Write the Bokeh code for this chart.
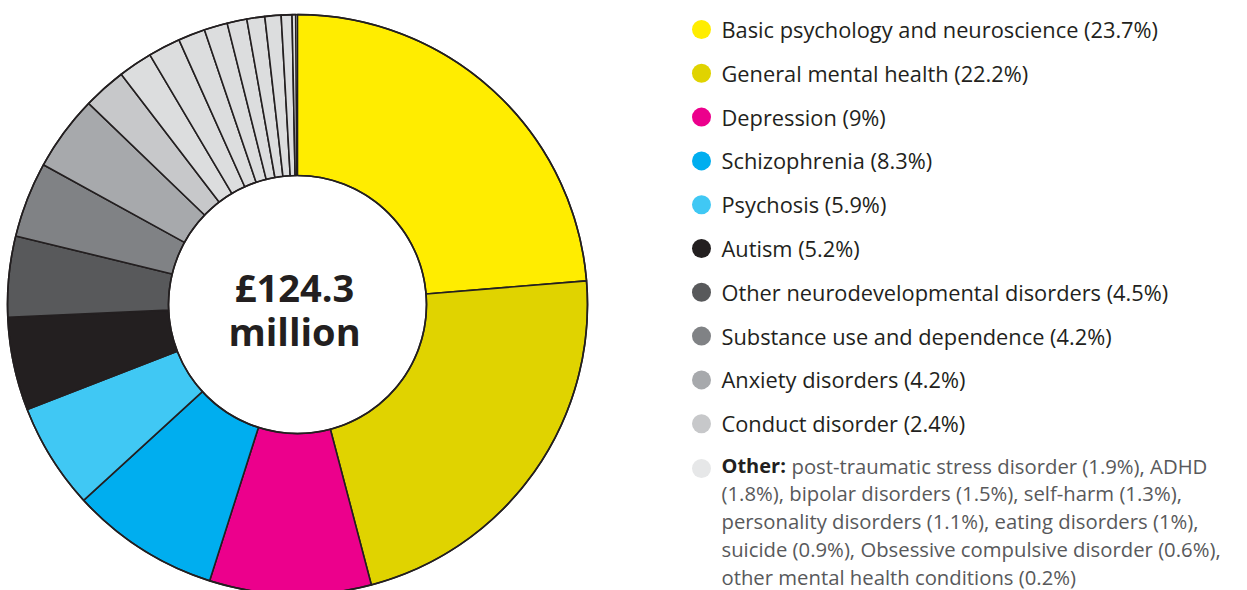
import numpy as np
from bokeh.plotting import figure
from bokeh.models import Range1d, ColumnDataSource
from bokeh.core.properties import value
from bokeh.embed import file_html
from bokeh.resources import INLINE

# ---- data ----
main_labels = ["Basic psychology and neuroscience", "General mental health", "Depression",
               "Schizophrenia", "Psychosis", "Autism", "Other neurodevelopmental disorders",
               "Substance use and dependence", "Anxiety disorders", "Conduct disorder"]
main_values = [23.7, 22.2, 9, 8.3, 5.9, 5.2, 4.5, 4.2, 4.2, 2.4]
main_colors = ["#FFED00", "#E0D300", "#EC008C", "#00AEEF", "#40C8F4", "#231F20",
               "#58595B", "#808285", "#A7A9AC", "#C7C8CA"]

other_labels = ["post-traumatic stress disorder", "ADHD", "bipolar disorders", "self-harm",
                "personality disorders", "eating disorders", "suicide",
                "Obsessive compulsive disorder", "other mental health conditions"]
other_values = [1.9, 1.8, 1.5, 1.3, 1.1, 1, 0.9, 0.6, 0.2]
other_color = "#DCDDDE"
other_legend_color = "#E6E7E8"

total_text = ["£124.3", "million"]

# ---- layout ----
W, H = 1247, 590
def Y(img_y):
    return H - img_y
def X(img_x):
    return img_x

p = figure(width=W, height=H, output_backend="svg", toolbar_location=None,
           x_range=Range1d(0, W), y_range=Range1d(0, H), min_border=0)
p.axis.visible = False
p.grid.visible = False
p.outline_line_color = None
p.background_fill_color = "white"
p.border_fill_color = "white"

# ---- donut ----
vals = np.array(main_values + other_values, dtype=float)
cols = main_colors + [other_color] * len(other_values)
frac = vals / 100.0
cum_end = np.cumsum(frac)
cum_start = cum_end - frac
start = np.pi / 2 - 2 * np.pi * cum_start
end = np.pi / 2 - 2 * np.pi * cum_end
cx, cy = X(297), Y(304)
R_out, R_in = 290, 129

src = ColumnDataSource(dict(start=start, end=end, color=cols))
p.annular_wedge(x=cx, y=cy, inner_radius=R_in, outer_radius=R_out,
                start_angle="start", end_angle="end", direction="clock",
                fill_color="color", line_color="#231F20", line_width=1.6, source=src)
p.circle(x=[cx], y=[cy], radius=R_in, fill_color=None, line_color="#231F20", line_width=1.6)
p.circle(x=[cx], y=[cy], radius=R_out, fill_color=None, line_color="#231F20", line_width=1.6)

p.text(x=[cx - 3, cx - 3], y=[Y(286), Y(330)], text=total_text,
       text_font=value("Open Sans"), text_font_style="bold", text_font_size="38px",
       text_color="#231F20", text_align="center", text_baseline="middle")

# ---- legend ----
row0, step = 29, 43.8
ly = [Y(row0 + i * step) for i in range(len(main_labels))]
ltxt = [f"{l} ({v:g}%)" for l, v in zip(main_labels, main_values)]
p.circle(x=[X(701)] * len(ly), y=ly, radius=9.5, fill_color=main_colors, line_color=None)
p.text(x=[X(721)] * len(ly), y=ly, text=ltxt, text_font=value("Open Sans"),
       text_font_size="21.8px", text_color="#231F20", text_baseline="middle")

# Other entry
oy0 = row0 + len(main_labels) * step - 2
p.circle(x=[X(701)], y=[Y(oy0 + 3)], radius=9.5, fill_color=other_legend_color, line_color=None)
parts = [f"{l} ({v:g}%)" for l, v in zip(other_labels, other_values)]
lines = [parts[0] + ", ADHD",
         parts[1].replace("ADHD ", "") + ", " + ", ".join(parts[2:4]) + ",",
         ", ".join(parts[4:6]) + ",",
         ", ".join(parts[6:8]) + ",",
         parts[8]]
p.text(x=[X(721)], y=[Y(oy0)], text=["Other:"], text_font=value("Open Sans"),
       text_font_style="bold", text_font_size="20px", text_color="#231F20",
       text_baseline="middle")
p.text(x=[X(791)], y=[Y(oy0)], text=[lines[0]], text_font=value("Open Sans"),
       text_font_size="20.3px", text_color="#58595B", text_baseline="middle")
ostep = 27.9
p.text(x=[X(721)] * 4, y=[Y(oy0 + ostep * k) for k in range(1, 5)], text=lines[1:],
       text_font=value("Open Sans"), text_font_size="20.3px", text_color="#58595B",
       text_baseline="middle")

open("out.html", "w").write(file_html(p, INLINE))
